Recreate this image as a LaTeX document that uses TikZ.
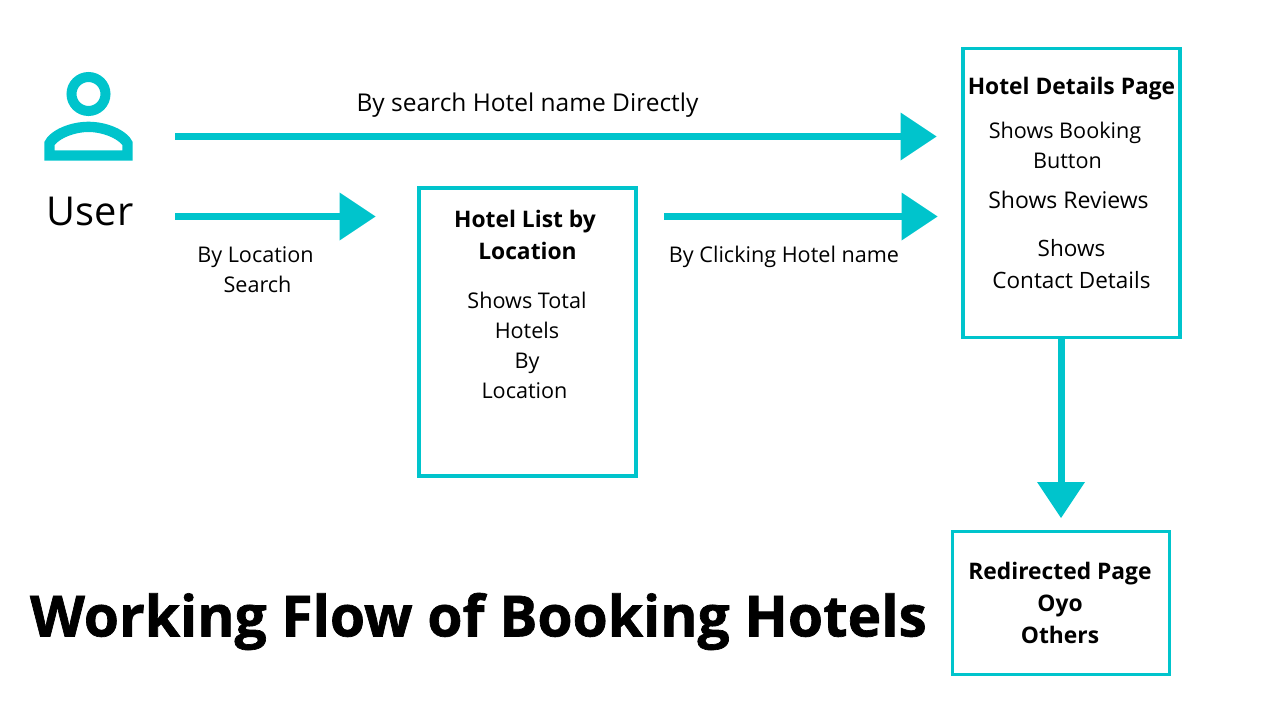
\documentclass[tikz,border=0pt]{standalone}
\usepackage{fontspec}
\setmainfont{Open Sans}
\newfontfamily\heavyfont{Open Sans}[BoldFeatures={FakeBold=1.2}]
\usetikzlibrary{arrows.meta}
\definecolor{flowteal}{HTML}{00C4CC}
\tikzset{
	pagebox/.style  = {draw=flowteal, line width=3.8pt, rectangle, inner sep=0pt},
	flow/.style     = {draw=flowteal, line width=7pt, -{Triangle[length=36pt,width=48pt,line width=0pt]}},
	label/.style    = {align=center, font=\fontsize{21.6}{30}\selectfont, inner sep=0pt},
	boldlabel/.style= {align=center, font=\fontsize{22.8}{32}\selectfont\bfseries, inner sep=0pt},
	input/.style    = {coordinate}
}
\begin{document}
\begin{tikzpicture}[x=1pt,y=-1pt,>=latex]
	\useasboundingbox (0,0) rectangle (1280,720);
	% boxes
	\draw
	node at (527.5,332)[pagebox, minimum width=217pt, minimum height=288pt] (list) {}
	node at (1071.5,193)[pagebox, minimum width=217pt, minimum height=289pt] (details) {}
	node at (1061,603)[pagebox, minimum width=217pt, minimum height=143pt] (redirect) {};

	% user icon
	\draw[flowteal, line width=10pt] (88.5,94) circle (17pt);
	\fill[flowteal, even odd rule] (44.3,160.7) -- (44.3,142) .. controls (50,130) and (70,121.7) .. (88.5,121.7) .. controls (107,121.7) and (127,130) .. (132.7,142) -- (132.7,160.7) -- cycle
	(54.7,150.3) -- (54.7,145) .. controls (60,138) and (75,132) .. (88.5,132) .. controls (102,132) and (117,138) .. (122.3,145) -- (122.3,150.3) -- cycle;
	\node at (90,211) [label, font=\fontsize{39.8}{46}\selectfont] (user) {User};

	% free ends
	\node at (175,136.5) [input] (a1) {};
	\node at (936.5,136.5) [input] (a2) {};
	\node at (175,216.5) [input] (b1) {};
	\node at (375.5,216.5) [input] (b2) {};
	\node at (664,216.5) [input] (c1) {};
	\node at (937.5,216.5) [input] (c2) {};
	\node at (1061,339) [input] (d1) {};
	\node at (1061,518) [input] (d2) {};

	\draw[flow] (a1) -- (a2);
	\draw[flow] (b1) -- (b2);
	\draw[flow] (c1) -- (c2);
	\draw[flow] (d1) -- (d2);

	% labels
	\node at (527.5,105) [label, font=\fontsize{24.5}{30}\selectfont] (direct) {By search Hotel name Directly};
	\node at (255.5,270) [label] (search) {By Location\\\hspace*{4pt}Search};
	\node at (784,256.5) [label] (click) {By Clicking Hotel name};
	\node at (525,235) [boldlabel] (listhead) {Hotel List by\\\hspace*{5pt}Location};
	\node at (527,345) [label] (listtext) {Shows Total\\Hotels\\By\\Location\hspace*{5pt}};
	\node at (1071.5,89) [boldlabel] (dethead) {Hotel Details Page};
	\node at (1065,145) [label] (dettext) {Shows Booking\\\hspace*{5pt}Button};
	\node at (1068.5,200) [label, font=\fontsize{23}{30}\selectfont] (reviews) {Shows Reviews};
	\node at (1071.5,264) [label, font=\fontsize{22.5}{32}\selectfont] (contact) {Shows\\Contact Details};
	\node at (1060,603) [boldlabel] (redtext) {Redirected Page\\Oyo\\Others};
	\node at (478.5,621.5) [font=\fontsize{56.8}{64}\selectfont\heavyfont\bfseries, inner sep=0pt] (title) {Working Flow of Booking Hotels};
\end{tikzpicture}
\end{document}
